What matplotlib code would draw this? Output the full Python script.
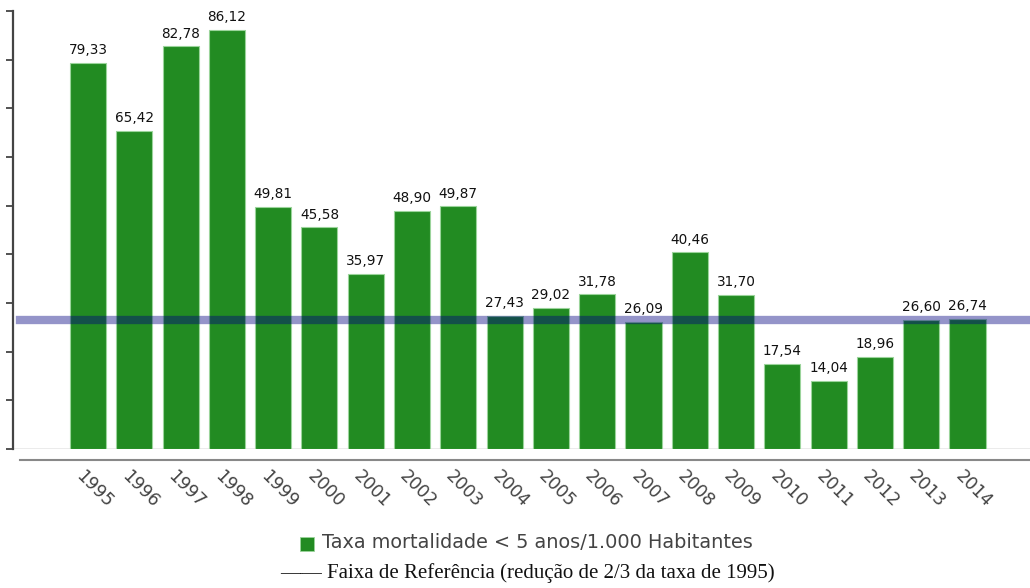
import matplotlib
matplotlib.use("Agg")
import matplotlib.pyplot as plt
import matplotlib.transforms as mtransforms

years = ["1995", "1996", "1997", "1998", "1999", "2000", "2001", "2002", "2003", "2004",
         "2005", "2006", "2007", "2008", "2009", "2010", "2011", "2012", "2013", "2014"]
values = [79.33, 65.42, 82.78, 86.12, 49.81, 45.58, 35.97, 48.90, 49.87, 27.43,
          29.02, 31.78, 26.09, 40.46, 31.70, 17.54, 14.04, 18.96, 26.60, 26.74]
reference = values[0] / 3.0
yticks = list(range(0, 91, 10))

W, H = 1030, 588
fig = plt.figure(figsize=(W / 100, H / 100), dpi=100)
ax = fig.add_axes([13 / W, (H - 449) / H, (W - 13) / W, (449 - 11) / H])

x = list(range(len(years)))
ax.bar(x, values, width=0.78, color="#228B22", edgecolor="#9bd49b", linewidth=0.8, zorder=2)

for xi, v in zip(x, values):
    ax.annotate(f"{v:.2f}".replace(".", ","), (xi, v), xytext=(0, 4), textcoords="offset points",
                ha="center", va="bottom", fontsize=9.8, color="#111111",
                family="DejaVu Sans", zorder=4)

ax.axhline(reference, color="#000080", alpha=0.42, linewidth=6, zorder=3,
           xmin=(20 - 13) / (W - 13))
ax.axhline(0, color="#e8e8e8", linewidth=1.2, zorder=1)

ax.set_xlim(-1.62, 20.35)
ax.set_ylim(0, 90)
ax.set_yticks(yticks)
ax.set_yticklabels([])
ax.tick_params(axis="y", direction="out", length=5, width=1.3, color="#444444")

for s in ["top", "right"]:
    ax.spines[s].set_visible(False)
ax.spines["left"].set_color("#444444")
ax.spines["left"].set_linewidth(1.6)
ax.spines["left"].set_bounds(0, 90)
ax.spines["bottom"].set_position(("outward", 8))
ax.spines["bottom"].set_color("#888888")
ax.spines["bottom"].set_linewidth(1.5)
ax.spines["bottom"].set_bounds(-1.47, 20.35)

ax.set_xticks(x)
ax.set_xticklabels(years, rotation=-45, ha="center", va="top", fontsize=12.5,
                   color="#444444", family="DejaVu Sans")
ax.tick_params(axis="x", length=0, pad=5)
offset = mtransforms.ScaledTranslation(6 / 100, 0, fig.dpi_scale_trans)
for lab in ax.get_xticklabels():
    lab.set_transform(lab.get_transform() + offset)

# legend
fig.patches.append(plt.Rectangle((300 / W, (H - 551) / H), 14 / W, 14 / H,
                                 transform=fig.transFigure, facecolor="#228B22",
                                 edgecolor="#9bd49b", linewidth=0.6))
fig.text(322 / W, (H - 543) / H, "Taxa mortalidade < 5 anos/1.000 Habitantes",
         ha="left", va="center", fontsize=13.9, color="#444444", family="DejaVu Sans")
fig.text(527 / W, (H - 573) / H, "\u2014\u2014 Faixa de Referência (redução de 2/3 da taxa de 1995)",
         ha="center", va="center", fontsize=15, color="#111111", family="Liberation Serif")

fig.savefig("out.png", dpi=100)
